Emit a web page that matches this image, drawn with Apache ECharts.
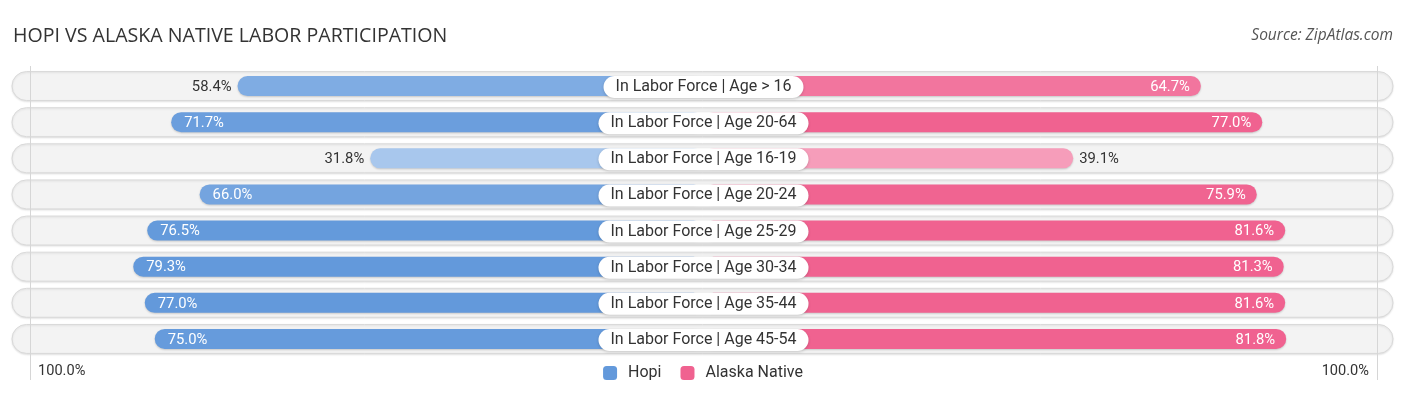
<!DOCTYPE html>
<html>
<head>
<meta charset="utf-8">
<script src="https://cdn.jsdelivr.net/npm/echarts@6/dist/echarts.min.js"></script>
<style>
  html, body { margin: 0; padding: 0; background: #ffffff; }
  #chart { width: 1406px; height: 395px; }
</style>
</head>
<body>
<div id="chart"></div>
<script>
const categories = [
  'In Labor Force | Age > 16',
  'In Labor Force | Age 20-64',
  'In Labor Force | Age 16-19',
  'In Labor Force | Age 20-24',
  'In Labor Force | Age 25-29',
  'In Labor Force | Age 30-34',
  'In Labor Force | Age 35-44',
  'In Labor Force | Age 45-54'
];
const hopi = [58.4, 71.7, 31.8, 66.0, 76.5, 79.3, 77.0, 75.0];
const alaskaNative = [64.7, 77.0, 39.1, 75.9, 81.6, 81.3, 81.6, 81.8];
const edgeTickLabels = ['100.0%', '100.0%'];
const seriesNames = ['Hopi', 'Alaska Native'];

const PAD = 35.0;          // hidden span under the centre label (axis units)
const FULL = 100 + PAD;
const BLUE = [99, 153, 219], BLUE_LIGHT = [178, 206, 240];
const PINK = [240, 98, 144], PINK_LIGHT = [248, 179, 202];
const FONT = 'Roboto, "Noto Sans", sans-serif';

function mix(a, b, t) {
  const c = a.map((v, k) => Math.round(b[k] + (v - b[k]) * t));
  return 'rgb(' + c.join(',') + ')';
}
function shade(full, light, v) {
  const t = Math.max(0, Math.min(1, (v - 25) / 52));
  return mix(full, light, t);
}

const chart = echarts.init(document.getElementById('chart'), null, { renderer: 'canvas' });

function barRender(values, side, full, light) {
  return function (params, api) {
    const i = params.dataIndex;
    const v = values[i];
    const c = api.coord([0, i]);
    const cx = c[0], cy = c[1];
    const outer = api.coord([side * (PAD + v), i])[0];
    const x0 = Math.min(cx, outer), x1 = Math.max(cx, outer);
    const h = 20;
    const inside = v >= 60;
    let tx, align, fill;
    if (side < 0) {
      if (inside) { tx = outer + 13; align = 'left'; fill = '#ffffff'; }
      else { tx = outer - 6; align = 'right'; fill = '#333333'; }
    } else {
      if (inside) { tx = outer - 11; align = 'right'; fill = '#ffffff'; }
      else { tx = outer + 6; align = 'left'; fill = '#333333'; }
    }
    return {
      type: 'group',
      children: [
        {
          type: 'rect',
          shape: { x: x0, y: cy - h / 2, width: x1 - x0, height: h, r: h / 2 },
          style: {
            fill: shade(full, light, v),
            shadowBlur: 2, shadowOffsetY: 1, shadowColor: 'rgba(0,0,0,0.18)'
          }
        },
        {
          type: 'text',
          style: {
            text: v.toFixed(1) + '%',
            x: tx, y: cy + 1, align: align, verticalAlign: 'middle',
            fill: fill, font: '14.8px ' + FONT
          }
        }
      ]
    };
  };
}

const option = {
  animation: false,
  title: [
    {
      text: 'HOPI VS ALASKA NATIVE LABOR PARTICIPATION',
      left: 8, top: 21, padding: [5, 5, 5, 5],
      textStyle: { fontSize: 19.6, fontWeight: 'normal', color: '#333333', fontFamily: '"Open Sans", sans-serif' }
    },
    {
      text: 'Source: ZipAtlas.com',
      right: 8, top: 23,
      textStyle: { fontSize: 15.5, fontWeight: 'normal', fontStyle: 'italic', color: '#555555', fontFamily: '"Open Sans", sans-serif' }
    }
  ],
  legend: {
    data: seriesNames,
    left: 'center', top: 360,
    icon: 'roundRect', itemWidth: 14, itemHeight: 14, itemGap: 19,
    textStyle: { fontSize: 16, color: '#333333', fontFamily: FONT, padding: [0, 0, 0, 6] }
  },
  grid: { left: 30, right: 29, top: 68, height: 289, containLabel: false },
  xAxis: { type: 'value', min: -FULL, max: FULL, show: false },
  yAxis: { type: 'category', data: categories, inverse: true, show: false },
  series: [
    {
      type: 'custom', name: 'rows', silent: true, z: 1,
      data: categories.map((c, i) => i),
      renderItem: function (params, api) {
        const i = params.dataIndex;
        const cy = api.coord([0, i])[1];
        const xl = api.coord([-FULL, i])[0] - 18;
        const xr = api.coord([FULL, i])[0] + 16;
        const h = 29;
        return {
          type: 'rect',
          shape: { x: xl, y: cy - h / 2, width: xr - xl, height: h, r: h / 2 },
          style: {
            fill: '#f3f3f3', stroke: '#d9d9d9', lineWidth: 1,
            shadowBlur: 2, shadowOffsetY: 1, shadowColor: 'rgba(0,0,0,0.10)'
          }
        };
      }
    },
    {
      type: 'custom', name: 'Hopi', z: 2,
      itemStyle: { color: 'rgb(99,153,219)' },
      data: hopi.map((v, i) => [i, v]),
      renderItem: barRender(hopi, -1, BLUE, BLUE_LIGHT)
    },
    {
      type: 'custom', name: 'Alaska Native', z: 2,
      itemStyle: { color: 'rgb(240,98,144)' },
      data: alaskaNative.map((v, i) => [i, v]),
      renderItem: barRender(alaskaNative, 1, PINK, PINK_LIGHT)
    },
    {
      type: 'custom', name: 'labels', silent: true, z: 3,
      data: categories.map((c, i) => i),
      renderItem: function (params, api) {
        const i = params.dataIndex;
        const c = api.coord([0, i]);
        return {
          type: 'text',
          style: {
            text: categories[i],
            x: c[0], y: c[1] + 1, align: 'center', verticalAlign: 'middle',
            fill: '#333333', font: '16px ' + FONT,
            backgroundColor: '#ffffff', borderRadius: 11,
            padding: [2, 12, 2, 12], lineHeight: 18,
            shadowBlur: 3, shadowOffsetY: 1, shadowColor: 'rgba(0,0,0,0.18)'
          }
        };
      }
    }
  ]
};
chart.setOption(option);

const xLeft = chart.convertToPixel({ xAxisIndex: 0 }, -FULL);
const xRight = chart.convertToPixel({ xAxisIndex: 0 }, FULL);
chart.setOption({
  graphic: [
    { type: 'line', z: 10, silent: true, shape: { x1: xLeft + 0.5, y1: 66, x2: xLeft + 0.5, y2: 380 }, style: { stroke: '#d6d6d6', lineWidth: 1 } },
    { type: 'line', z: 10, silent: true, shape: { x1: xRight + 0.5, y1: 66, x2: xRight + 0.5, y2: 380 }, style: { stroke: '#d6d6d6', lineWidth: 1 } },
    { type: 'text', z: 10, silent: true, style: { text: edgeTickLabels[0], x: xLeft + 8, y: 371, align: 'left', verticalAlign: 'middle', fill: '#333333', font: '14.6px ' + FONT } },
    { type: 'text', z: 10, silent: true, style: { text: edgeTickLabels[1], x: xRight - 8, y: 371, align: 'right', verticalAlign: 'middle', fill: '#333333', font: '14.6px ' + FONT } }
  ]
});
</script>
</body>
</html>
